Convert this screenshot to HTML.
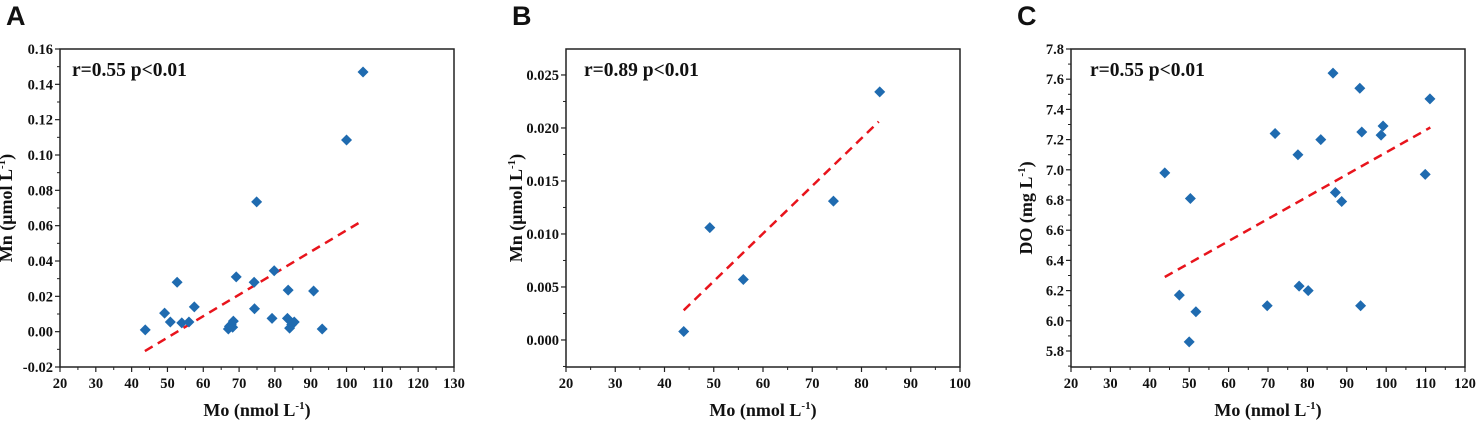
<!DOCTYPE html>
<html><head><meta charset="utf-8"><style>
body{margin:0;background:#fff;width:1476px;height:420px;overflow:hidden}
svg text{font-family:"Liberation Serif",serif;font-weight:bold;fill:#111}
</style></head><body>
<svg id="s" width="1476" height="420" xmlns="http://www.w3.org/2000/svg"></svg>
<script>
const aX=[43.8,49.2,50.8,52.7,54,56,57.5,67,67.3,67.8,68.2,68.4,69.2,74.2,74.3,74.9,79.2,79.8,83.5,83.7,84.1,84.7,85.4,90.8,93.2,100,104.6];
const aY=[0.001,0.0105,0.0055,0.028,0.005,0.0055,0.014,0.0015,0.003,0.004,0.0025,0.006,0.031,0.028,0.013,0.0735,0.0075,0.0345,0.0075,0.0235,0.002,0.004,0.0055,0.023,0.0015,0.1085,0.147];
const aFitX=[43.7,103.8], aFitY=[-0.011,0.062];
const aYTicks=["-0.02","0.00","0.02","0.04","0.06","0.08","0.10","0.12","0.14","0.16"];
const aXTicks=[20,30,40,50,60,70,80,90,100,110,120,130];
const bX=[43.9,49.2,56,74.3,83.7];
const bY=[0.0008,0.0106,0.0057,0.0131,0.0234];
const bFitX=[43.9,83.5], bFitY=[0.0028,0.0206];
const bYTicks=["0.000","0.005","0.010","0.015","0.020","0.025"];
const bXTicks=[20,30,40,50,60,70,80,90,100];
const cX=[43.8,47.5,50,50.3,51.7,69.8,71.8,77.6,77.9,80.2,83.4,86.5,87.1,88.7,93.3,93.5,93.8,98.7,99.2,109.9,111.1];
const cY=[6.98,6.17,5.86,6.81,6.06,6.10,7.24,7.10,6.23,6.20,7.20,7.64,6.85,6.79,7.54,6.10,7.25,7.23,7.29,6.97,7.47];
const cFitX=[43.8,111.2], cFitY=[6.29,7.28];
const cYTicks=["5.8","6.0","6.2","6.4","6.6","6.8","7.0","7.2","7.4","7.6","7.8"];
const cXTicks=[20,30,40,50,60,70,80,90,100,110,120];

const S=document.getElementById('s'),NS='http://www.w3.org/2000/svg';
function mk(t,a,p){const e=document.createElementNS(NS,t);for(const k in a)e.setAttribute(k,a[k]);(p||S).appendChild(e);return e;}
function panel(o){
 const g=mk('g',{});
 
 
 const L=o.L,R=o.L+394,T=49,B=367;
 const sx=v=>L+(v-o.x0)/(o.x1-o.x0)*(R-L);
 const sy=v=>B-(v-o.y0)/(o.y1-o.y0)*(B-T);
 const lt=mk('text',{x:o.L-54,y:25,'font-size':27,style:'font-family:"Liberation Sans",sans-serif'},g);lt.textContent=o.id;
 
 const fr=mk('rect',{x:L,y:T,width:R-L,height:B-T,fill:'none',stroke:'#222','stroke-width':1.5},g);
 
 const step=o.xt[1]-o.xt[0];
 o.xt.forEach((v,i)=>{const x=sx(v);mk('line',{x1:x,x2:x,y1:B,y2:B+5,stroke:'#222','stroke-width':1.2},g);
  if(i<o.xt.length-1){const m=sx(v+step/2);mk('line',{x1:m,x2:m,y1:B,y2:B+3,stroke:'#222','stroke-width':1},g);}
  const t=mk('text',{x:x,y:B+21,'font-size':14.5,'text-anchor':'middle'},g);t.textContent=v;
  });
 const ys=parseFloat(o.yt[1])-parseFloat(o.yt[0]);
 o.yt.forEach((s,i)=>{const v=parseFloat(s),y=sy(v);mk('line',{x1:L-5,x2:L,y1:y,y2:y,stroke:'#222','stroke-width':1.2},g);
  [v-ys/2,v+ys/2].forEach(m=>{if(m>o.y0&&m<o.y1&&(i==0||m>v)){const yy=sy(m);mk('line',{x1:L-3,x2:L,y1:yy,y2:yy,stroke:'#222','stroke-width':1},g);}});
  const t=mk('text',{x:L-7,y:y+5,'font-size':14.5,'text-anchor':'end'},g);t.textContent=s;
  });
 const xt=mk('text',{x:(L+R)/2,y:416,'font-size':18,'text-anchor':'middle'},g);
 xt.innerHTML='Mo (nmol L<tspan dy="-7" font-size="11">-1</tspan><tspan dy="7">)</tspan>';
 
 const yx=o.L+o.ytx,yt=mk('text',{x:yx,y:(T+B)/2,'font-size':18,'text-anchor':'middle',transform:`rotate(-90 ${yx} ${(T+B)/2})`},g);
 yt.innerHTML=o.ylab+' L<tspan dy="-7" font-size="11">-1</tspan><tspan dy="7">)</tspan>';
 
 const an=mk('text',{x:L+o.anx,y:76,'font-size':19.5},g);an.textContent=o.ann;
 
 const fl=mk('line',{x1:sx(o.fx[0]),y1:sy(o.fy[0]),x2:sx(o.fx[1]),y2:sy(o.fy[1]),stroke:'#e8141c','stroke-width':2.5,'stroke-dasharray':'9,6'},g);
 
 o.px.forEach((v,i)=>{const x=sx(v),y=sy(o.py[i]);
  const d=mk('polygon',{points:`${x},${y-5.5} ${x+5.5},${y} ${x},${y+5.5} ${x-5.5},${y}`,fill:'#1f6bb0'},g);
  });
}
panel({id:'A',L:60,x0:20,x1:130,y0:-0.02,y1:0.16,xt:aXTicks,yt:aYTicks,px:aX,py:aY,fx:aFitX,fy:aFitY,ann:'r=0.55 p<0.01',anx:12,ytx:-48,ylab:'Mn (μmol'});
panel({id:'B',L:566,x0:20,x1:100,y0:-0.00255,y1:0.02745,xt:bXTicks,yt:bYTicks,px:bX,py:bY,fx:bFitX,fy:bFitY,ann:'r=0.89 p<0.01',anx:18,ytx:-44,ylab:'Mn (μmol'});
panel({id:'C',L:1071,x0:20,x1:120,y0:5.694,y1:7.8,xt:cXTicks,yt:cYTicks,px:cX,py:cY,fx:cFitX,fy:cFitY,ann:'r=0.55 p<0.01',anx:19,ytx:-39,ylab:'DO (mg'});
</script>
</body></html>
